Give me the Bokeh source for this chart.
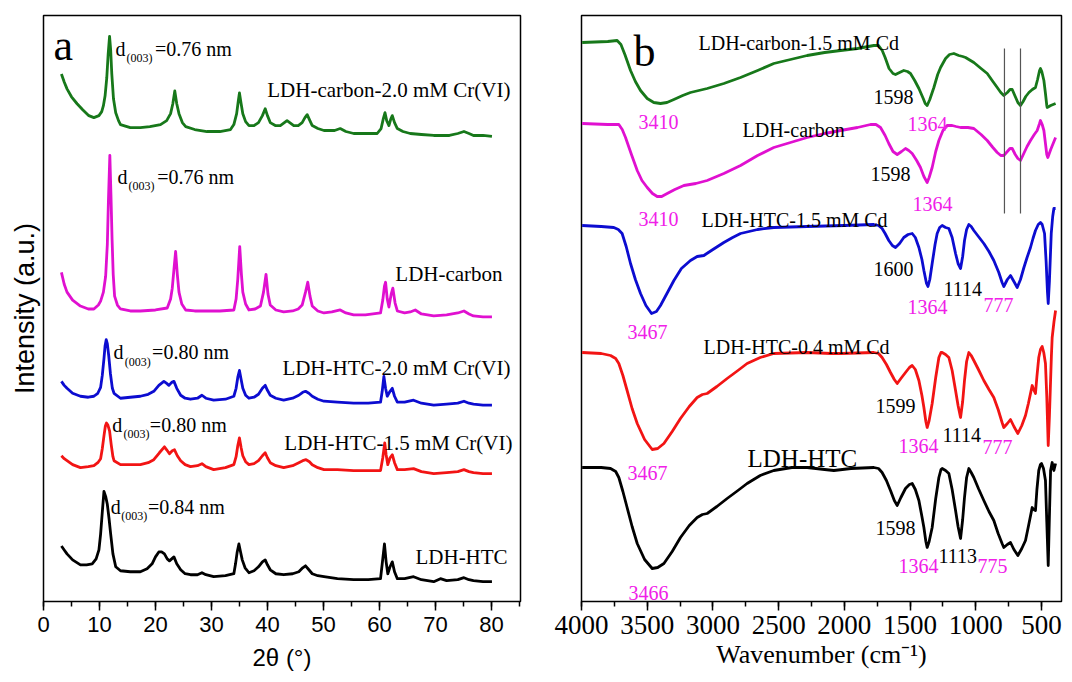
from bokeh.plotting import figure
from bokeh.layouts import row
from bokeh.models import Range1d, SingleIntervalTicker, FixedTicker
from bokeh.core.properties import value
from bokeh.embed import file_html
from bokeh.resources import INLINE

# ---------------- Panel a : XRD (2theta, stacked intensity a.u.) ----------------
xrd_green_x = [3.2, 3.7, 4.2, 5.0, 6.0, 7.0, 8.1, 9.0, 9.9, 10.4, 10.7, 11.0, 11.3, 11.55, 11.8, 12.0, 12.2, 12.5,
               12.9, 13.4, 13.75, 15.5, 17.3, 19.0, 20.9, 22.0, 22.7, 23.1, 23.45, 23.8, 24.2, 24.8, 25.4, 27.0,
               29.2, 31.5, 33.4, 34.0, 34.5, 34.8, 35.0, 35.3, 35.6, 36.1, 36.7, 37.6, 38.4, 39.1, 39.6, 40.0,
               40.5, 41.4, 42.3, 43.5, 44.7, 45.5, 46.2, 46.7, 47.1, 47.5, 48.0, 49.0, 50.1, 52.0, 53.0, 54.0,
               55.4, 57.5, 59.6, 60.3, 60.7, 61.0, 61.3, 61.7, 62.0, 62.3, 62.7, 63.2, 64.2, 65.5, 67.5, 69.7,
               72.5, 74.0, 75.1, 76.0, 76.8, 78.5, 80.1]
xrd_green_y = [532, 524, 517, 509, 502, 496, 490, 488, 490, 494, 500, 510, 528, 552, 570, 556, 532, 507,
               493, 485, 481, 478, 478, 479, 481, 485, 492, 502, 515, 502, 492, 483, 479, 476,
               474, 474, 476, 481, 492, 505, 513, 502, 492, 484, 480, 480, 483, 490, 497, 490,
               483, 480, 480, 485, 480, 480, 483, 488, 491, 486, 480, 477, 475, 475, 477, 474,
               472, 472, 472, 477, 487, 493, 485, 480, 486, 490, 483, 477, 474, 472, 471, 470,
               470, 472, 474, 472, 470, 470, 469]

xrd_mag_x = [3.2, 3.7, 4.2, 5.2, 6.6, 8.0, 9.0, 9.8, 10.2, 10.7, 11.1, 11.4, 11.6, 11.85, 12.05, 12.25, 12.45,
             12.7, 13.2, 13.75, 15.5, 17.3, 20.0, 22.1, 22.7, 23.0, 23.3, 23.6, 23.9, 24.2, 24.7, 25.4, 27.0,
             29.2, 31.5, 34.0, 34.4, 34.7, 35.05, 35.35, 35.6, 36.1, 36.7, 37.8, 38.75, 39.3, 39.75, 40.1,
             40.5, 41.5, 42.9, 44.5, 45.5, 46.2, 46.8, 47.2, 47.6, 48.0, 49.0, 50.1, 51.5, 53.0, 54.0, 55.4,
             57.5, 60.2, 60.6, 60.9, 61.1, 61.4, 61.7, 62.1, 62.4, 62.8, 63.2, 64.5, 65.5, 66.4, 67.5, 69.7,
             72.0, 74.0, 75.1, 76.0, 76.8, 78.5, 80.1]
xrd_mag_y = [332, 320, 312, 304, 298, 295, 295, 299, 303, 312, 328, 360, 405, 450, 410, 365, 330,
             308, 299, 295, 293, 293, 294, 296, 305, 316, 335, 353, 330, 312, 300, 294, 293,
             293, 293, 294, 305, 325, 358, 330, 312, 300, 294, 295, 298, 312, 330, 310,
             299, 294, 292, 293, 295, 299, 312, 322, 308, 298, 293, 291, 292, 294, 291, 289,
             289, 291, 304, 318, 322, 305, 297, 310, 316, 301, 293, 291, 292, 294, 290, 288,
             289, 291, 293, 290, 288, 287, 287]

xrd_blue_x = [3.2, 3.7, 4.2, 5.2, 6.6, 8.0, 9.0, 9.7, 10.2, 10.5, 10.8, 11.0, 11.2, 11.4, 11.65, 11.95, 12.3,
              12.6, 13.75, 15.5, 17.3, 18.7, 19.7, 20.6, 21.5, 22.0, 22.4, 22.9, 23.3, 23.8, 24.5, 25.3, 26.25,
              27.5, 28.3, 29.0, 30.4, 32.5, 34.0, 34.4, 34.7, 35.0, 35.3, 35.6, 36.1, 36.7, 37.6, 38.4, 39.1,
              39.6, 40.0, 40.5, 41.5, 42.9, 44.5, 45.6, 46.3, 46.8, 47.4, 48.0, 49.0, 50.1, 52.5, 55.4, 58.0,
              60.2, 60.5, 60.8, 61.1, 61.4, 61.9, 62.3, 62.7, 63.2, 64.5, 66.1, 67.5, 69.7, 72.0, 74.0, 75.1,
              76.0, 76.8, 78.5, 80.1]
xrd_blue_y = [222, 218, 215, 210, 207, 206, 207, 210, 216, 228, 245, 258, 264, 260, 248, 230, 215,
              210, 205, 206, 207, 209, 212, 218, 222, 220, 218, 221, 222, 215, 208, 205, 204,
              205, 208, 205, 203, 204, 207, 215, 226, 233, 224, 215, 208, 205, 206, 209, 215,
              218, 213, 208, 205, 203, 205, 208, 211, 212, 210, 207, 204, 202, 201, 200, 200,
              201, 212, 227, 215, 207, 212, 215, 207, 201, 201, 203, 200, 198, 199, 200, 202,
              200, 199, 198, 198]

xrd_red_x = [3.2, 3.7, 4.2, 5.2, 6.6, 8.0, 9.0, 9.7, 10.2, 10.5, 10.8, 11.05, 11.25, 11.5, 11.8, 12.1, 12.4,
             12.6, 13.75, 15.5, 17.3, 18.7, 19.7, 20.7, 21.6, 22.0, 22.5, 23.0, 23.4, 23.9, 24.5, 25.3, 26.25,
             27.5, 28.3, 29.0, 30.4, 32.5, 34.0, 34.4, 34.7, 35.0, 35.3, 35.6, 36.1, 36.7, 37.6, 38.4, 39.1,
             39.6, 40.0, 40.5, 41.5, 42.9, 44.5, 45.6, 46.3, 46.9, 47.5, 48.0, 49.0, 50.1, 52.5, 55.4, 58.0,
             60.2, 60.6, 60.95, 61.2, 61.5, 61.9, 62.3, 62.7, 63.2, 64.5, 66.1, 67.5, 69.7, 72.0, 74.0, 75.1,
             76.0, 76.8, 78.5, 80.1]
xrd_red_y = [147, 144, 142, 138, 135, 136, 137, 140, 144, 154, 167, 177, 180, 178, 172, 158, 146,
             142, 138, 138, 138, 140, 143, 150, 156, 153, 149, 152, 153, 147, 142, 138, 136,
             137, 139, 136, 133, 135, 138, 146, 157, 165, 155, 147, 141, 138, 139, 142, 147,
             150, 145, 140, 137, 135, 137, 140, 142, 143, 141, 138, 135, 133, 133, 132, 132,
             132, 145, 160, 148, 138, 145, 148, 140, 133, 133, 134, 131, 129, 130, 131, 133,
             131, 130, 129, 129]

xrd_black_x = [3.2, 3.7, 4.2, 5.2, 6.6, 7.7, 8.7, 9.4, 9.9, 10.2, 10.5, 10.8, 11.1, 11.4, 11.7, 12.0, 12.4,
               12.9, 13.75, 15.5, 17.3, 18.5, 19.4, 20.0, 20.6, 21.1, 21.6, 22.1, 22.5, 22.9, 23.3, 23.8, 24.5,
               25.3, 26.25, 27.5, 28.3, 29.0, 30.4, 32.5, 34.0, 34.3, 34.6, 34.9, 35.2, 35.5, 36.0, 36.7, 37.6,
               38.4, 39.1, 39.6, 40.0, 40.5, 41.5, 42.9, 44.5, 45.6, 46.3, 46.8, 47.4, 48.0, 49.0, 50.1, 52.5,
               55.4, 58.0, 60.2, 60.5, 60.9, 61.2, 61.5, 61.9, 62.3, 62.7, 63.2, 64.5, 66.1, 67.5, 69.7, 70.9,
               72.0, 74.0, 75.1, 76.0, 76.8, 78.5, 80.1]
xrd_black_y = [56, 52, 48, 42, 37, 37, 38, 43, 52, 68, 90, 111, 106, 98, 84, 68, 48,
               35, 31, 30, 30, 33, 38, 45, 50, 50, 48, 43, 41, 43, 45, 38, 32,
               28, 27, 27, 29, 27, 25, 26, 28, 38, 50, 58, 50, 42, 34, 29, 31,
               35, 40, 42, 37, 32, 28, 27, 28, 30, 34, 36, 32, 28, 26, 25, 23,
               22, 22, 23, 38, 58, 40, 28, 35, 40, 30, 23, 23, 25, 22, 20, 23,
               21, 22, 24, 22, 21, 20, 20]

# ---------------- Panel b : FTIR (wavenumber, stacked transmittance a.u.) ----------------
ir_green_w = [3995, 3800, 3729, 3700, 3670, 3627, 3590, 3551, 3500, 3450, 3399, 3350, 3297, 3230, 3171, 3044,
              2917, 2790, 2660, 2537, 2410, 2283, 2150, 2029, 1900, 1776, 1740, 1712, 1690, 1660, 1630, 1611,
              1580, 1548, 1520, 1497, 1465, 1433, 1400, 1385, 1370, 1350, 1319, 1290, 1268, 1230, 1200, 1167,
              1130, 1100, 1078, 1015, 960, 913, 870, 837, 810, 787, 760, 740, 723, 700, 680, 660, 640, 620,
              596, 570, 546, 530, 515, 508, 498, 482, 470, 460, 457, 430, 393]
ir_green_t = [559, 560, 561, 557, 547, 531, 520, 511, 503, 499, 498, 499, 502, 506, 509, 513,
              518, 524, 531, 538, 542, 546, 549, 551, 553, 556, 556, 551, 544, 533, 528, 527,
              529, 531, 530, 528, 521, 513, 503, 498, 496, 502, 514, 527, 534, 543, 547, 548,
              546, 545, 544, 539, 533, 528, 520, 514, 509, 506, 509, 512, 512, 505, 499, 496, 500, 505,
              509, 512, 514, 522, 531, 533, 530, 521, 508, 496, 494, 496, 498]

ir_mag_w = [3995, 3800, 3716, 3690, 3665, 3620, 3576, 3540, 3500, 3460, 3424, 3390, 3348, 3290, 3221, 3130,
            3044, 2917, 2790, 2660, 2537, 2410, 2283, 2150, 2029, 1900, 1801, 1760, 1725, 1690, 1662, 1630,
            1598, 1565, 1535, 1510, 1484, 1450, 1421, 1395, 1370, 1355, 1332, 1305, 1281, 1250, 1218, 1180,
            1150, 1116, 1060, 1015, 960, 913, 870, 837, 810, 787, 760, 740, 723, 700, 680, 660, 635, 610,
            584, 555, 533, 515, 508, 495, 482, 470, 460, 452, 430, 393]
ir_mag_t = [478, 477, 477, 472, 464, 447, 431, 421, 414, 408, 405, 405, 408, 412, 416, 418,
            421, 428, 436, 446, 454, 459, 464, 468, 471, 474, 477, 477, 474, 466, 458, 450,
            447, 450, 453, 451, 448, 441, 434, 425, 419, 424, 434, 450, 461, 471, 476, 476,
            475, 474, 474, 473, 467, 461, 454, 449, 446, 446, 450, 453, 453, 447, 443, 441, 448, 455,
            461, 467, 471, 478, 481, 477, 471, 458, 447, 444, 452, 464]

ir_blue_w = [3995, 3850, 3754, 3720, 3691, 3660, 3627, 3590, 3551, 3510, 3467, 3430, 3399, 3350, 3297, 3240,
             3171, 3120, 3069, 3000, 2917, 2850, 2790, 2660, 2537, 2283, 2000, 1776, 1740, 1713, 1690, 1662,
             1635, 1611, 1580, 1548, 1515, 1484, 1460, 1433, 1410, 1395, 1375, 1364, 1350, 1332, 1310, 1294,
             1275, 1256, 1230, 1205, 1180, 1154, 1135, 1116, 1100, 1086, 1070, 1053, 1035, 1015, 980, 939,
             900, 863, 825, 800, 787, 760, 736, 710, 685, 660, 634, 610, 584, 565, 546, 525, 508, 495, 477,
             465, 455, 449, 440, 426, 415, 406, 393]
ir_blue_t = [376, 375, 374, 372, 368, 355, 338, 322, 308, 296, 288, 290, 296, 308, 321, 333,
             341, 345, 346, 352, 359, 364, 368, 372, 374, 375, 376, 377, 376, 373, 368, 361,
             356, 354, 358, 364, 367, 368, 364, 354, 342, 331, 318, 315, 322, 338, 357, 368,
             374, 376, 374, 373, 364, 348, 338, 333, 345, 361, 372, 377, 375, 371, 365, 358,
             350, 341, 329, 319, 315, 322, 326, 320, 314, 322, 334, 344, 354, 363, 371, 377, 379, 377, 368,
             340, 310, 298, 320, 368, 385, 393, 393]

ir_red_w = [3995, 3850, 3779, 3740, 3716, 3685, 3653, 3615, 3576, 3520, 3462, 3420, 3373, 3310, 3247, 3180,
            3120, 3080, 3044, 2970, 2892, 2810, 2740, 2640, 2537, 2283, 2100, 2029, 1776, 1740, 1713, 1680,
            1649, 1620, 1598, 1570, 1535, 1505, 1484, 1460, 1433, 1410, 1395, 1380, 1370, 1355, 1332, 1305,
            1281, 1265, 1256, 1230, 1205, 1180, 1154, 1135, 1116, 1100, 1086, 1070, 1053, 1035, 1015, 980,
            939, 900, 863, 830, 800, 787, 760, 736, 710, 680, 650, 622, 600, 571, 560, 546, 535, 521, 508,
            495, 483, 470, 460, 449, 440, 431, 425, 419, 405, 393]
ir_red_t = [249, 248, 246, 243, 238, 226, 211, 193, 178, 162, 152, 153, 158, 170, 183, 195,
            204, 207, 208, 215, 223, 231, 238, 244, 248, 249, 248, 248, 249, 248, 244, 237,
            229, 222, 218, 223, 229, 234, 236, 232, 221, 206, 194, 180, 174, 181, 198, 224,
            244, 249, 249, 247, 244, 231, 211, 196, 184, 200, 221, 240, 249, 246, 241, 232,
            221, 212, 204, 192, 179, 174, 178, 182, 175, 168, 176, 186, 198, 216, 212, 208, 225, 244, 252,
            255, 249, 238, 205, 156, 185, 221, 245, 264, 280, 291]

ir_black_w = [3995, 3850, 3779, 3740, 3716, 3685, 3653, 3615, 3576, 3520, 3462, 3420, 3373, 3310, 3247, 3180,
              3120, 3080, 3044, 2970, 2892, 2810, 2740, 2640, 2537, 2400, 2283, 2150, 2080, 1950, 1776, 1740,
              1713, 1680, 1649, 1620, 1598, 1570, 1535, 1505, 1484, 1460, 1433, 1410, 1395, 1380, 1370, 1355,
              1332, 1305, 1281, 1265, 1256, 1230, 1205, 1180, 1154, 1135, 1116, 1100, 1086, 1070, 1053, 1035,
              1015, 980, 939, 900, 863, 830, 800, 787, 760, 736, 710, 680, 650, 622, 600, 571, 560, 546, 535,
              521, 508, 500, 485, 470, 460, 449, 440, 431, 419, 406, 393]
ir_black_t = [134, 134, 133, 130, 124, 110, 94, 75, 58, 42, 33, 34, 38, 50, 64, 76,
              84, 87, 88, 95, 103, 111, 118, 126, 131, 134, 134, 132, 131, 133, 134, 133,
              129, 121, 111, 101, 96, 104, 113, 117, 118, 112, 101, 85, 74, 60, 54, 60,
              74, 103, 124, 132, 133, 131, 128, 112, 91, 75, 63, 82, 104, 124, 133, 129,
              124, 113, 101, 90, 81, 68, 58, 54, 57, 59, 52, 46, 53, 61, 75, 94, 92, 91, 112,
              131, 137, 138, 133, 121, 80, 36, 85, 131, 139, 131, 138]

# reference marker lines (wavenumbers) across the two carbon spectra
marker_w = [782, 660]
marker_t0 = [388, 388]
marker_t1 = [553, 553]

GREEN = "#17781a"
MAGENTA = "#e010d0"
LABEL_MAG = "#f020e8"
BLUE = "#0c0cd0"
RED = "#f21414"
BLACK = "#000000"
SERIF = "Liberation Serif"
SANS = "Liberation Sans"
LW = 2.8

# ======================= Figure a =======================
pa = figure(width=540, height=682, output_backend="svg", toolbar_location=None,
            x_range=Range1d(0, 85.2), y_range=Range1d(0, 591),
            min_border_left=43, min_border_right=20, min_border_top=14, min_border_bottom=77)
pa.grid.visible = False
pa.outline_line_color = "black"
pa.outline_line_width = 1.5
pa.background_fill_color = "white"
pa.border_fill_color = "white"

for xs, ys, c in [(xrd_green_x, xrd_green_y, GREEN), (xrd_mag_x, xrd_mag_y, MAGENTA),
                  (xrd_blue_x, xrd_blue_y, BLUE), (xrd_red_x, xrd_red_y, RED),
                  (xrd_black_x, xrd_black_y, BLACK)]:
    pa.line(xs, ys, line_color=c, line_width=LW, line_join="round")

xa = pa.xaxis[0]
xa.ticker = SingleIntervalTicker(interval=10, num_minor_ticks=2)
xa.axis_line_color = None
xa.major_tick_in = 0
xa.major_tick_out = 9
xa.minor_tick_in = 0
xa.minor_tick_out = 5
xa.major_tick_line_width = 1.5
xa.minor_tick_line_width = 1.5
xa.major_tick_line_color = "black"
xa.minor_tick_line_color = "black"
xa.major_label_text_font = SANS
xa.major_label_text_font_size = "22px"
xa.major_label_text_color = "black"
xa.major_label_standoff = 6
xa.axis_label = "2\u03b8 (\u00b0)"
xa.axis_label_text_font = SANS
xa.axis_label_text_font_style = "normal"
xa.axis_label_text_font_size = "24px"
xa.axis_label_text_color = "black"
xa.axis_label_standoff = 9

ya = pa.yaxis[0]
ya.ticker = FixedTicker(ticks=[])
ya.axis_line_color = None
ya.major_tick_line_color = None
ya.minor_tick_line_color = None
ya.major_label_standoff = 0
ya.axis_label = "Intensity (a.u.)"
ya.axis_label_text_font = SANS
ya.axis_label_text_font_style = "normal"
ya.axis_label_text_font_size = "27px"
ya.axis_label_text_color = "black"
ya.axis_label_standoff = 4

pa.text(x=[1.8], y=[561], text=["a"], text_font=value(SERIF), text_font_size="44px",
        text_baseline="alphabetic", text_color="black")

# d(003) annotations: main "d", subscript "(003)", and rest
d_x = [12.86, 13.2, 12.5, 12.3, 12.0]
d_y = [557, 428, 252, 178, 95]
sub_x = [14.82, 15.2, 14.5, 14.3, 13.9]
sub_y = [548, 419, 242, 169, 86]
rest_x = [19.9, 20.3, 19.4, 19.0, 18.65]
rest_text = ["=0.76 nm", "=0.76 nm", "=0.80 nm", "=0.80 nm", "=0.84 nm"]
pa.text(x=d_x, y=d_y, text=["d"] * 5, text_font=value(SERIF), text_font_size="20px",
        text_baseline="alphabetic", text_color="black")
pa.text(x=sub_x, y=sub_y, text=["(003)"] * 5, text_font=value(SERIF), text_font_size="12px",
        text_baseline="alphabetic", text_color="black")
pa.text(x=rest_x, y=d_y, text=rest_text, text_font=value(SERIF), text_font_size="20px",
        text_baseline="alphabetic", text_color="black")

name_a_x = [83.4, 82.0, 83.4, 83.75, 82.9]
name_a_y = [516, 330, 235, 160, 45]
name_a = ["LDH-carbon-2.0 mM Cr(VI)", "LDH-carbon", "LDH-HTC-2.0 mM Cr(VI)",
          "LDH-HTC-1.5 mM Cr(VI)", "LDH-HTC"]
pa.text(x=name_a_x, y=name_a_y, text=name_a, text_font=value(SERIF), text_font_size="21px",
        text_align="right", text_baseline="alphabetic", text_color="black")

# ======================= Figure b =======================
pb = figure(width=532, height=682, output_backend="svg", toolbar_location=None,
            x_range=Range1d(4000, 348), y_range=Range1d(0, 586),
            min_border_left=41, min_border_right=11, min_border_top=15, min_border_bottom=81)
pb.grid.visible = False
pb.outline_line_color = "black"
pb.outline_line_width = 1.5
pb.yaxis.visible = False

for xs, ys, c in [(ir_green_w, ir_green_t, GREEN), (ir_mag_w, ir_mag_t, MAGENTA),
                  (ir_blue_w, ir_blue_t, BLUE), (ir_red_w, ir_red_t, RED),
                  (ir_black_w, ir_black_t, BLACK)]:
    pb.line(xs, ys, line_color=c, line_width=LW, line_join="round")

pb.segment(x0=marker_w, y0=marker_t0, x1=marker_w, y1=marker_t1, line_color="#555555", line_width=1.2)

xb = pb.xaxis[0]
xb.ticker = SingleIntervalTicker(interval=500, num_minor_ticks=2)
xb.axis_line_color = None
xb.major_tick_in = 0
xb.major_tick_out = 9
xb.minor_tick_in = 0
xb.minor_tick_out = 5
xb.major_tick_line_width = 1.5
xb.minor_tick_line_width = 1.5
xb.major_tick_line_color = "black"
xb.minor_tick_line_color = "black"
xb.major_label_text_font = SERIF
xb.major_label_text_font_size = "27px"
xb.major_label_text_color = "black"
xb.major_label_standoff = 5
xb.axis_label = "Wavenumber (cm\u207b\u00b9)"
xb.axis_label_text_font = SERIF
xb.axis_label_text_font_style = "normal"
xb.axis_label_text_font_size = "26px"
xb.axis_label_text_color = "black"
xb.axis_label_standoff = 3

pb.text(x=[3604], y=[550], text=["b"], text_font=value(SERIF), text_font_size="44px",
        text_baseline="alphabetic", text_color="black")

name_b_x = [3110, 2775, 3087, 3072]
name_b_y = [559, 472, 382, 255]
name_b = ["LDH-carbon-1.5 mM Cd", "LDH-carbon", "LDH-HTC-1.5 mM Cd", "LDH-HTC-0.4 mM Cd"]
pb.text(x=name_b_x, y=name_b_y, text=name_b, text_font=value(SERIF), text_font_size="20px",
        text_baseline="alphabetic", text_color="black")
pb.text(x=[2737], y=[143], text=["LDH-HTC"], text_font=value(SERIF), text_font_size="25px",
        text_baseline="alphabetic", text_color="black")

blk_x = [1778, 1801, 1778, 1246, 1763, 1253, 1763, 1284]
blk_y = [505, 428, 333, 313, 196, 167, 74, 46]
blk_t = ["1598", "1598", "1600", "1114", "1599", "1114", "1598", "1113"]
pb.text(x=blk_x, y=blk_y, text=blk_t, text_font=value(SERIF), text_font_size="20px",
        text_baseline="alphabetic", text_color="black")

mag_x = [3566, 1520, 1482, 3566, 1520, 941, 3650, 1588, 949, 3650, 1588, 987, 3642]
mag_y = [480, 478, 398, 383, 295, 297, 270, 156, 155, 129, 36, 36, 9]
mag_t = ["3410", "1364", "1364", "3410", "1364", "777", "3467", "1364", "777", "3467", "1364", "775", "3466"]
pb.text(x=mag_x, y=mag_y, text=mag_t, text_font=value(SERIF), text_font_size="20px",
        text_baseline="alphabetic", text_color=LABEL_MAG)

layout = row(pa, pb)
open("out.html", "w").write(file_html(layout, INLINE))
